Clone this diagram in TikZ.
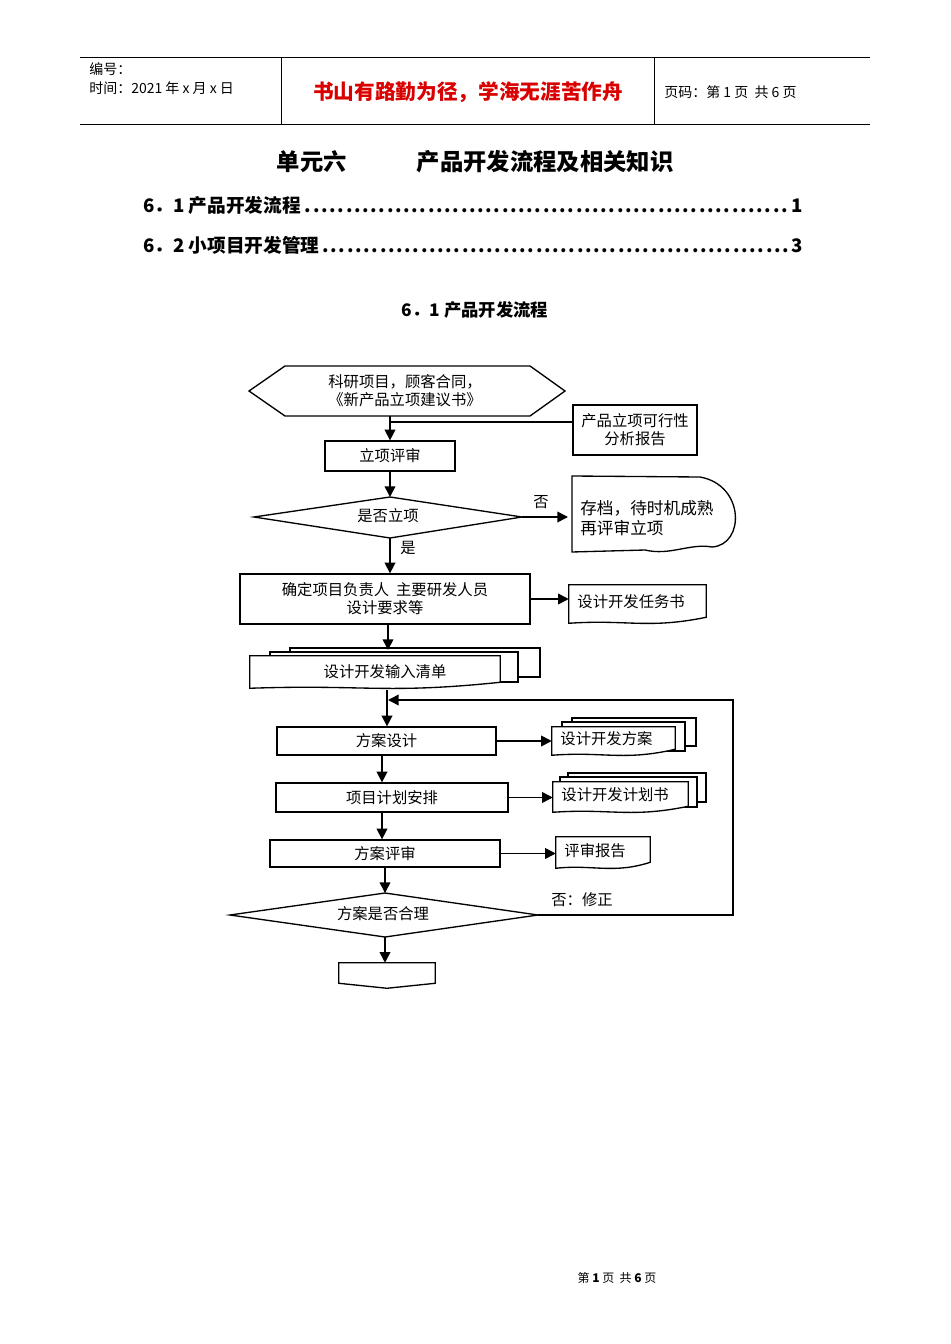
\documentclass[tikz,border=0pt]{standalone}
\usepackage{fontspec}
\setmainfont{Noto Sans CJK SC}
\usetikzlibrary{arrows.meta,calc,shapes.geometric}
\newcommand\bx[6]{\node[box,minimum width={(#4-#2)*0.75pt},minimum height={(#5-#3)*0.75pt}] (#1) at ({(#2+#4)/2},{(#3+#5)/2}) {#6};}
\newcommand\dc[6]{\node[inner sep=0pt,minimum width={(#4-#2)*0.75pt},minimum height={(#5-#3)*0.75pt}] (#1) at ({(#2+#4)/2},{(#3+#5)/2}) {};
 \draw[fill=white,line width=1pt] (#1.north west)--(#1.north east)--($(#1.south east)+(0,-6)$) .. controls ($(#1.south)+(10,6)$) and ($(#1.south)+(-10,-4)$) .. (#1.south west)--cycle;
 \node[font=\fontsize{11.5}{13}\selectfont,anchor=west] at ($(#1.west)+(4,-2)$) {#6};}
\newcommand\bk[4]{\draw[fill=white,line width=1pt] (#1,#2) rectangle (#3,#4);}
\begin{document}
\begin{tikzpicture}[x=0.75pt,y=-0.75pt,
 box/.style={draw,line width=1pt,inner sep=0pt,font=\fontsize{11.5}{13.5}\selectfont,align=center},
 ar/.style={line width=1.2pt,-{Triangle[width=8pt,length=8pt]}},
 ln/.style={line width=1.2pt},
 t/.style={inner sep=0pt,font=\fontsize{11.5}{13.5}\selectfont}]
\useasboundingbox (0,0) rectangle (950,1344);
% header
\draw[line width=0.6pt] (80,57)--(870,57) (80,124)--(870,124) (281,57)--(281,124) (654,57)--(654,124);
\node[anchor=west,inner sep=0pt,font=\fontsize{10.5}{12}\selectfont] at (89,69) {编号：};
\node[anchor=west,inner sep=0pt,font=\fontsize{10.5}{12}\selectfont] at (89,88) {时间：2021 年 x 月 x 日};
\node[inner sep=0pt,text=red!85!black,font=\bfseries\fontsize{15.5}{18}\selectfont] at (468,92) {书山有路勤为径，学海无涯苦作舟};
\node[anchor=west,inner sep=0pt,font=\fontsize{10.5}{12}\selectfont] at (664,92) {页码：第 1 页\ \ 共 6 页};
% title
\node[inner sep=0pt,font=\bfseries\fontsize{17.5}{20}\selectfont] at (475,162) {单元六\hspace{3em}产品开发流程及相关知识};
\node[anchor=west,inner sep=0pt,font=\bfseries\fontsize{14}{16}\selectfont] at (143,205) {\makebox[495pt][l]{6．1 产品开发流程\dotfill 1}};
\node[anchor=west,inner sep=0pt,font=\bfseries\fontsize{14}{16}\selectfont] at (143,245) {\makebox[495pt][l]{6．2 小项目开发管理\dotfill 3}};
\node[inner sep=0pt,font=\bfseries\fontsize{13}{15}\selectfont] at (475,310) {6．1 产品开发流程};
% hexagon
\draw[line width=1pt] (249,391)--(285,366)--(530,366)--(565,391)--(530,416)--(285,416)--cycle;
\node[t,align=center] (hex) at (405,391) {科研项目，顾客合同，\\《新产品立项建议书》};
\coordinate (hexb) at (390,416);
\bx{fx}{573}{405}{697}{455}{产品立项可行性\\分析报告}
\bx{lx}{325}{441}{455}{471}{立项评审}
\coordinate (jn) at (390,422);
\draw[ln] (fx.west|-jn)--(jn);
\draw[ar] (hexb)--(lx.north-|hexb);
% diamond 1
\draw[line width=1pt] (254,517)--(390,497)--(522,517)--(390,538)--cycle;
\node[t] (d1) at (388,516) {是否立项};
\coordinate (d1t) at (390,497); \coordinate (d1b) at (390,538); \coordinate (d1r) at (522,517);
\draw[ar] (lx.south-|d1t)--(d1t);
% archive
\draw[line width=1pt] (572,476)--(700,477) .. controls (745,485) and (745,545) .. (712,547) .. controls (690,543) and (670,556) .. (645,550)--(572,552)--cycle;
\node[t,anchor=west,align=left,font=\fontsize{12.5}{15.5}\selectfont] (arc) at (580,518) {存档，待时机成熟\\再评审立项};
\coordinate (arcw) at (568,517);
\draw[ar] (d1r)--(arcw);
\node[t] at (541,502) {否};
\bx{qd}{240}{574}{530}{624}{确定项目负责人\ \ 主要研发人员\\设计要求等}
\draw[ar] (d1b)--(qd.north-|d1b);
\node[t] at (408,548) {是};
\dc{rw}{569}{585}{706}{623}{设计开发任务书}
\draw[ar] (qd.east)--(qd.east-|rw.west);
% input list
\bk{290}{648}{540}{677}
\bk{270}{652}{518}{682}
\dc{sr}{250}{656}{500}{688}{}
\node[t] at (385,672) {设计开发输入清单};
\coordinate (top2) at (388,624);
\draw[ar] (top2)--(388,650);
\bx{fa}{277}{727}{496}{755}{方案设计}
\coordinate (srb) at (387,690);
\draw[ar] (srb)--(fa.north-|srb);
% fangan docs
\bk{572}{718}{696}{746}
\bk{562}{722}{685}{751}
\dc{fd}{552}{727}{675}{755}{设计开发方案}
\draw[ar] (fa.east)--(fa.east-|fd.west);
\bx{xm}{276}{783}{508}{812}{项目计划安排}
\draw[ar] (fa.south-|382,0)--(xm.north-|382,0);
\bk{568}{773}{706}{802}
\bk{560}{777}{697}{807}
\dc{jh}{553}{782}{688}{812}{设计开发计划书}
\draw[ar] (xm.east)--(xm.east-|jh.west);
\bx{ps}{270}{840}{500}{867}{方案评审}
\draw[ar] (xm.south-|382,0)--(ps.north-|382,0);
\dc{bg}{556}{837}{650}{868}{评审报告}
\draw[ar] (ps.east)--(ps.east-|bg.west);
% diamond 2
\draw[line width=1pt] (230,915)--(385,893)--(538,915)--(385,937)--cycle;
\node[t] (d2) at (383,914) {方案是否合理};
\coordinate (d2t) at (385,893); \coordinate (d2b) at (385,937); \coordinate (d2r) at (538,915);
\draw[ar] (ps.south-|d2t)--(d2t);
\node[t] at (582,900) {否：修正};
\coordinate (c1) at (733,915); \coordinate (c2) at (733,700); \coordinate (c3) at (388,700);
\draw[ln,-{Triangle[width=8pt,length=8pt]}] (d2r)--(c1)--(c2)--(c3);
% final
\node[inner sep=0pt,minimum width={96*0.75pt},minimum height={20*0.75pt}] (fin) at (387,973) {};
\draw[line width=1pt] (fin.north west)--(fin.north east)--(fin.south east)--($(fin.south)+(0,5)$)--(fin.south west)--cycle;
\draw[ar] (d2b)--(fin.north-|d2b);
% footer
\node[inner sep=0pt,font=\fontsize{9}{11}\selectfont] at (617,1278) {第\ \textbf{1}\ 页\ \ 共\ \textbf{6}\ 页};
\end{tikzpicture}
\end{document}
